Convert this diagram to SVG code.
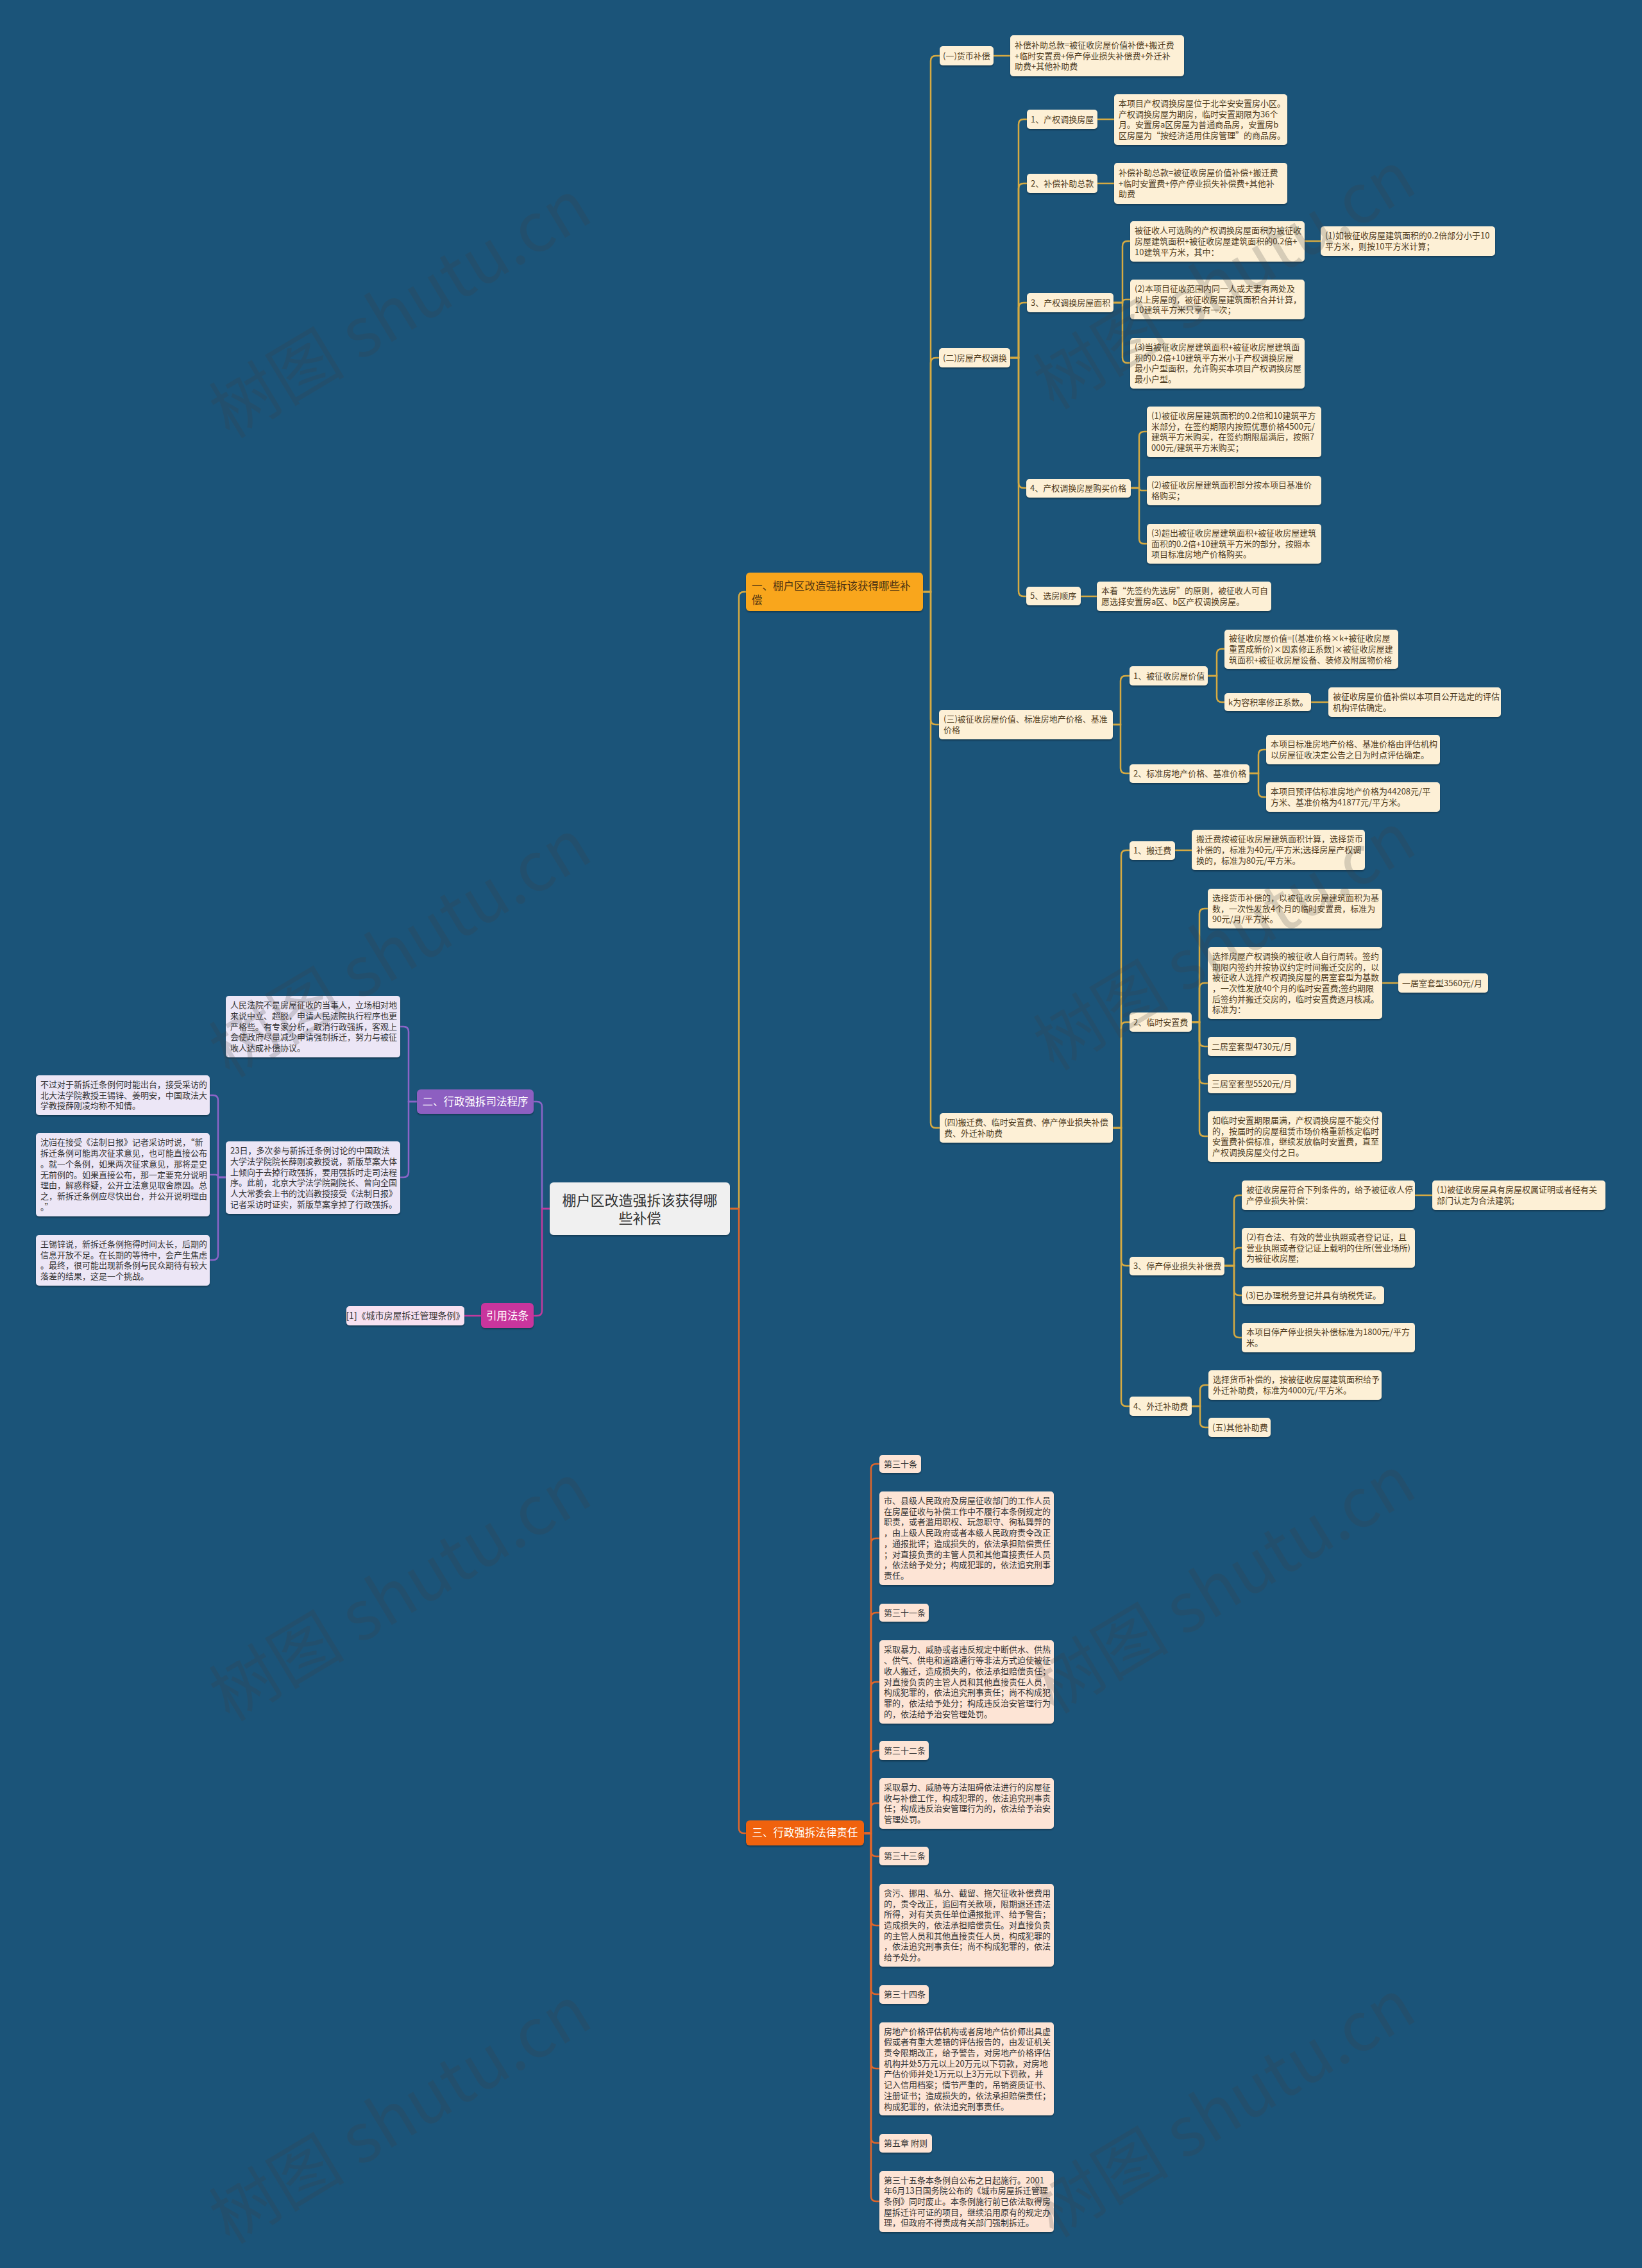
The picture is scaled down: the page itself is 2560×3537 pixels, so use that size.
<svg xmlns="http://www.w3.org/2000/svg" width="2560" height="3537" viewBox="0 0 2560 3537">
<defs>
<filter id="sh" x="-5%" y="-10%" width="110%" height="130%"><feDropShadow dx="0" dy="2" stdDeviation="1" flood-color="#000" flood-opacity="0.3"/></filter>
<style>
text{font-family:"Noto Sans CJK SC","Noto Sans",sans-serif;}
.t{font-size:13px;fill:#4f3c1e;}
.td{font-size:13px;fill:#333;}
.tw{font-size:16.5px;fill:#fff;}
.nc{fill:#fdf0d6;filter:url(#sh);}
.nl{fill:#ece6f6;filter:url(#sh);}
.np{fill:#f7e1f1;filter:url(#sh);}
.no{fill:#fde4d5;filter:url(#sh);}
.g{fill:none;stroke:#d6aa42;stroke-width:2.5;}
.p{fill:none;stroke:#8c64c8;stroke-width:2.5;}
.m{fill:none;stroke:#c23a9e;stroke-width:2.5;}
.o{fill:none;stroke:#e0662b;stroke-width:2.5;}
.wm{font-size:106px;fill:#404040;opacity:0.2;}
</style>
</defs>
<rect width="2560" height="3537" fill="#1b5479"/>

<g id="connectors">
<path class="g" stroke-width="3" d="M1138 1885H1152V931Q1152 923 1160 923H1163"/>
<path class="o" stroke-width="3" d="M1138 1885H1152V2851Q1152 2859 1160 2859H1163"/>
<path class="p" stroke-width="3" d="M857 1885H845V1726Q845 1718 837 1718H832"/>
<path class="m" stroke-width="3" d="M857 1885H845V2044Q845 2052 837 2052H832"/>
<path class="g" d="M1439 923H1451V95Q1451 87 1459 87H1465"/>
<path class="g" d="M1439 923H1451V566Q1451 558 1459 558H1464"/>
<path class="g" d="M1439 923H1451V1122Q1451 1130 1459 1130H1464"/>
<path class="g" d="M1439 923H1451V1751Q1451 1759 1459 1759H1465"/>
<path class="g" d="M1549 87H1575"/>
<path class="g" d="M1575 558H1588V194Q1588 186 1596 186H1601"/>
<path class="g" d="M1575 558H1588V294Q1588 286 1596 286H1601"/>
<path class="g" d="M1575 558H1588V480Q1588 472 1596 472H1601"/>
<path class="g" d="M1575 558H1588V753Q1588 761 1596 761H1600"/>
<path class="g" d="M1575 558H1588V922Q1588 930 1596 930H1600"/>
<path class="g" d="M1711 186H1737"/>
<path class="g" d="M1711 286H1737"/>
<path class="g" d="M1736 472H1750V384Q1750 376 1758 376H1762"/>
<path class="g" d="M1736 472H1750Q1750 467 1755 467H1762"/>
<path class="g" d="M1736 472H1750V558Q1750 566 1758 566H1762"/>
<path class="g" d="M2034 376H2059"/>
<path class="g" d="M1763 761H1776V681Q1776 673 1784 673H1788"/>
<path class="g" d="M1763 761H1776Q1776 765 1780 765H1788"/>
<path class="g" d="M1763 761H1776V840Q1776 848 1784 848H1788"/>
<path class="g" d="M1685 930H1710"/>
<path class="g" d="M1735 1130H1747V1062Q1747 1054 1755 1054H1761"/>
<path class="g" d="M1735 1130H1747V1198Q1747 1206 1755 1206H1761"/>
<path class="g" d="M1883 1054H1897V1020Q1897 1012 1905 1012H1909"/>
<path class="g" d="M1883 1054H1897V1087Q1897 1095 1905 1095H1909"/>
<path class="g" d="M2044 1095H2071"/>
<path class="g" d="M1948 1206H1962V1177Q1962 1169 1970 1169H1974"/>
<path class="g" d="M1948 1206H1962V1235Q1962 1243 1970 1243H1974"/>
<path class="g" d="M1735 1759H1748V1334Q1748 1326 1756 1326H1761"/>
<path class="g" d="M1735 1759H1748V1602Q1748 1594 1756 1594H1761"/>
<path class="g" d="M1735 1759H1748V1966Q1748 1974 1756 1974H1761"/>
<path class="g" d="M1735 1759H1748V2185Q1748 2193 1756 2193H1761"/>
<path class="g" d="M1832 1326H1858"/>
<path class="g" d="M1858 1594H1870V1425Q1870 1417 1878 1417H1883"/>
<path class="g" d="M1858 1594H1870V1541Q1870 1533 1878 1533H1883"/>
<path class="g" d="M1858 1594H1870V1624Q1870 1632 1878 1632H1883"/>
<path class="g" d="M1858 1594H1870V1682Q1870 1690 1878 1690H1883"/>
<path class="g" d="M1858 1594H1870V1764Q1870 1772 1878 1772H1883"/>
<path class="g" d="M2155 1533H2180"/>
<path class="g" d="M1909 1974H1924V1872Q1924 1864 1932 1864H1936"/>
<path class="g" d="M1909 1974H1924V1954Q1924 1946 1932 1946H1936"/>
<path class="g" d="M1909 1974H1924V2012Q1924 2020 1932 2020H1936"/>
<path class="g" d="M1909 1974H1924V2078Q1924 2086 1932 2086H1936"/>
<path class="g" d="M2206 1864H2233"/>
<path class="g" d="M1858 2193H1871V2168Q1871 2160 1879 2160H1884"/>
<path class="g" d="M1858 2193H1871V2218Q1871 2226 1879 2226H1884"/>
<path class="p" d="M650 1718H637V1609Q637 1601 629 1601H624"/>
<path class="p" d="M650 1718H637V1828Q637 1836 629 1836H624"/>
<path class="p" d="M352 1836H340V1716Q340 1708 332 1708H327"/>
<path class="p" d="M352 1836H340Q340 1832 336 1832H327"/>
<path class="p" d="M352 1836H340V1957Q340 1965 332 1965H327"/>
<path class="m" d="M750 2052H724"/>
<path class="o" d="M1347 2859H1358V2291Q1358 2283 1366 2283H1371"/>
<path class="o" d="M1347 2859H1358V2407Q1358 2399 1366 2399H1371"/>
<path class="o" d="M1347 2859H1358V2523Q1358 2515 1366 2515H1371"/>
<path class="o" d="M1347 2859H1358V2631Q1358 2623 1366 2623H1371"/>
<path class="o" d="M1347 2859H1358V2738Q1358 2730 1366 2730H1371"/>
<path class="o" d="M1347 2859H1358V2820Q1358 2812 1366 2812H1371"/>
<path class="o" d="M1347 2859H1358V2887Q1358 2895 1366 2895H1371"/>
<path class="o" d="M1347 2859H1358V2995Q1358 3003 1366 3003H1371"/>
<path class="o" d="M1347 2859H1358V3102Q1358 3110 1366 3110H1371"/>
<path class="o" d="M1347 2859H1358V3218Q1358 3226 1366 3226H1371"/>
<path class="o" d="M1347 2859H1358V3334Q1358 3342 1366 3342H1371"/>
<path class="o" d="M1347 2859H1358V3425Q1358 3433 1366 3433H1371"/>
</g>

<g id="root"><rect x="857" y="1844" width="281" height="82" rx="6" fill="#f0f0f0" filter="url(#sh)"/>
<text x="997.5" y="1880" font-size="22" fill="#333" text-anchor="middle">棚户区改造强拆该获得哪<tspan x="997.5" dy="28">些补偿</tspan></text></g>

<g id="n1"><rect x="1163" y="893" width="276" height="60" rx="6" fill="#f9a61c" filter="url(#sh)"/>
<text x="1172" y="919.8" font-size="16.5" fill="#4d3312">一、棚户区改造强拆该获得哪些补<tspan x="1172" dy="22">偿</tspan></text></g>

<g id="n1-1"><rect class="nc" x="1465" y="72" width="84" height="30" rx="5"/><text class="t" x="1470" y="91.5">(一)货币补偿</text></g>
<g id="n1-1a"><rect class="nc" x="1575" y="55" width="271" height="64" rx="5"/><text class="t" x="1582" y="74.8">补偿补助总款=被征收房屋价值补偿+搬迁费<tspan x="1582" dy="16.7">+临时安置费+停产停业损失补偿费+外迁补</tspan><tspan x="1582" dy="16.7">助费+其他补助费</tspan></text></g>

<g id="n1-2"><rect class="nc" x="1464" y="543" width="111" height="30" rx="5"/><text class="t" x="1470" y="562.5">(二)房屋产权调换</text></g>
<g id="n1-2-1"><rect class="nc" x="1601" y="171" width="110" height="30" rx="5"/><text class="t" x="1607" y="190.5">1、产权调换房屋</text></g>
<g id="n1-2-1a"><rect class="nc" x="1737" y="147" width="270" height="79" rx="5"/><text class="t" x="1744" y="166">本项目产权调换房屋位于北辛安安置房小区。<tspan x="1744" dy="16.7">产权调换房屋为期房，临时安置期限为36个</tspan><tspan x="1744" dy="16.7">月。安置房a区房屋为普通商品房，安置房b</tspan><tspan x="1744" dy="16.7">区房屋为“按经济适用住房管理”的商品房。</tspan></text></g>
<g id="n1-2-2"><rect class="nc" x="1601" y="271" width="110" height="30" rx="5"/><text class="t" x="1607" y="290.5">2、补偿补助总款</text></g>
<g id="n1-2-2a"><rect class="nc" x="1737" y="254" width="270" height="64" rx="5"/><text class="t" x="1744" y="273.8">补偿补助总款=被征收房屋价值补偿+搬迁费<tspan x="1744" dy="16.7">+临时安置费+停产停业损失补偿费+其他补</tspan><tspan x="1744" dy="16.7">助费</tspan></text></g>
<g id="n1-2-3"><rect class="nc" x="1601" y="457" width="135" height="30" rx="5"/><text class="t" x="1607" y="476.5">3、产权调换房屋面积</text></g>
<g id="n1-2-3a"><rect class="nc" x="1762" y="345" width="272" height="63" rx="5"/><text class="t" x="1769" y="364.3">被征收人可选购的产权调换房屋面积为被征收<tspan x="1769" dy="16.7">房屋建筑面积+被征收房屋建筑面积的0.2倍+</tspan><tspan x="1769" dy="16.7">10建筑平方米，其中：</tspan></text></g>
<g id="n1-2-3a1"><rect class="nc" x="2059" y="353" width="272" height="46" rx="5"/><text class="t" x="2066" y="372.2">(1)如被征收房屋建筑面积的0.2倍部分小于10<tspan x="2066" dy="16.7">平方米，则按10平方米计算；</tspan></text></g>
<g id="n1-2-3b"><rect class="nc" x="1762" y="436" width="272" height="62" rx="5"/><text class="t" x="1769" y="454.8">(2)本项目征收范围内同一人或夫妻有两处及<tspan x="1769" dy="16.7">以上房屋的，被征收房屋建筑面积合并计算，</tspan><tspan x="1769" dy="16.7">10建筑平方米只享有一次；</tspan></text></g>
<g id="n1-2-3c"><rect class="nc" x="1762" y="527" width="272" height="79" rx="5"/><text class="t" x="1769" y="546">(3)当被征收房屋建筑面积+被征收房屋建筑面<tspan x="1769" dy="16.7">积的0.2倍+10建筑平方米小于产权调换房屋</tspan><tspan x="1769" dy="16.7">最小户型面积，允许购买本项目产权调换房屋</tspan><tspan x="1769" dy="16.7">最小户型。</tspan></text></g>
<g id="n1-2-4"><rect class="nc" x="1600" y="747" width="163" height="29" rx="5"/><text class="t" x="1606" y="766">4、产权调换房屋购买价格</text></g>
<g id="n1-2-4a"><rect class="nc" x="1788" y="634" width="272" height="79" rx="5"/><text class="t" x="1795" y="653">(1)被征收房屋建筑面积的0.2倍和10建筑平方<tspan x="1795" dy="16.7">米部分，在签约期限内按照优惠价格4500元/</tspan><tspan x="1795" dy="16.7">建筑平方米购买，在签约期限届满后，按照7</tspan><tspan x="1795" dy="16.7">000元/建筑平方米购买；</tspan></text></g>
<g id="n1-2-4b"><rect class="nc" x="1788" y="742" width="272" height="46" rx="5"/><text class="t" x="1795" y="761.2">(2)被征收房屋建筑面积部分按本项目基准价<tspan x="1795" dy="16.7">格购买；</tspan></text></g>
<g id="n1-2-4c"><rect class="nc" x="1788" y="817" width="272" height="62" rx="5"/><text class="t" x="1795" y="835.8">(3)超出被征收房屋建筑面积+被征收房屋建筑<tspan x="1795" dy="16.7">面积的0.2倍+10建筑平方米的部分，按照本</tspan><tspan x="1795" dy="16.7">项目标准房地产价格购买。</tspan></text></g>
<g id="n1-2-5"><rect class="nc" x="1600" y="915" width="85" height="29" rx="5"/><text class="t" x="1606" y="934">5、选房顺序</text></g>
<g id="n1-2-5a"><rect class="nc" x="1710" y="907" width="272" height="46" rx="5"/><text class="t" x="1717" y="926.2">本着“先签约先选房”的原则，被征收人可自<tspan x="1717" dy="16.7">愿选择安置房a区、b区产权调换房屋。</tspan></text></g>

<g id="n1-3"><rect class="nc" x="1464" y="1107" width="271" height="46" rx="5"/><text class="t" x="1471" y="1126.2">(三)被征收房屋价值、标准房地产价格、基准<tspan x="1471" dy="16.7">价格</tspan></text></g>
<g id="n1-3-1"><rect class="nc" x="1761" y="1039" width="122" height="30" rx="5"/><text class="t" x="1767" y="1058.5">1、被征收房屋价值</text></g>
<g id="n1-3-1a"><rect class="nc" x="1909" y="982" width="271" height="61" rx="5"/><text class="t" x="1916" y="1000.3">被征收房屋价值=[(基准价格×k+被征收房屋<tspan x="1916" dy="16.7">重置成新价)×因素修正系数]×被征收房屋建</tspan><tspan x="1916" dy="16.7">筑面积+被征收房屋设备、装修及附属物价格</tspan></text></g>
<g id="n1-3-1b"><rect class="nc" x="1909" y="1081" width="135" height="28" rx="5"/><text class="t" x="1915" y="1099.5">k为容积率修正系数。</text></g>
<g id="n1-3-1b1"><rect class="nc" x="2071" y="1072" width="269" height="46" rx="5"/><text class="t" x="2078" y="1091.2">被征收房屋价值补偿以本项目公开选定的评估<tspan x="2078" dy="16.7">机构评估确定。</tspan></text></g>
<g id="n1-3-2"><rect class="nc" x="1761" y="1192" width="187" height="29" rx="5"/><text class="t" x="1767" y="1211">2、标准房地产价格、基准价格</text></g>
<g id="n1-3-2a"><rect class="nc" x="1974" y="1146" width="271" height="46" rx="5"/><text class="t" x="1981" y="1165.2">本项目标准房地产价格、基准价格由评估机构<tspan x="1981" dy="16.7">以房屋征收决定公告之日为时点评估确定。</tspan></text></g>
<g id="n1-3-2b"><rect class="nc" x="1974" y="1220" width="271" height="46" rx="5"/><text class="t" x="1981" y="1239.2">本项目预评估标准房地产价格为44208元/平<tspan x="1981" dy="16.7">方米、基准价格为41877元/平方米。</tspan></text></g>

<g id="n1-4"><rect class="nc" x="1465" y="1736" width="270" height="46" rx="5"/><text class="t" x="1472" y="1755.2">(四)搬迁费、临时安置费、停产停业损失补偿<tspan x="1472" dy="16.7">费、外迁补助费</tspan></text></g>
<g id="n1-4-1"><rect class="nc" x="1761" y="1312" width="71" height="29" rx="5"/><text class="t" x="1767" y="1331">1、搬迁费</text></g>
<g id="n1-4-1a"><rect class="nc" x="1858" y="1294" width="270" height="63" rx="5"/><text class="t" x="1865" y="1313.3">搬迁费按被征收房屋建筑面积计算，选择货币<tspan x="1865" dy="16.7">补偿的，标准为40元/平方米;选择房屋产权调</tspan><tspan x="1865" dy="16.7">换的，标准为80元/平方米。</tspan></text></g>
<g id="n1-4-2"><rect class="nc" x="1761" y="1579" width="97" height="30" rx="5"/><text class="t" x="1767" y="1598.5">2、临时安置费</text></g>
<g id="n1-4-2a"><rect class="nc" x="1883" y="1386" width="272" height="62" rx="5"/><text class="t" x="1890" y="1404.8">选择货币补偿的，以被征收房屋建筑面积为基<tspan x="1890" dy="16.7">数，一次性发放4个月的临时安置费，标准为</tspan><tspan x="1890" dy="16.7">90元/月/平方米。</tspan></text></g>
<g id="n1-4-2b"><rect class="nc" x="1883" y="1477" width="272" height="112" rx="5"/><text class="t" x="1890" y="1495.8">选择房屋产权调换的被征收人自行周转。签约<tspan x="1890" dy="16.7">期限内签约并按协议约定时间搬迁交房的，以</tspan><tspan x="1890" dy="16.7">被征收人选择产权调换房屋的居室套型为基数</tspan><tspan x="1890" dy="16.7">，一次性发放40个月的临时安置费;签约期限</tspan><tspan x="1890" dy="16.7">后签约并搬迁交房的，临时安置费逐月核减。</tspan><tspan x="1890" dy="16.7">标准为：</tspan></text></g>
<g id="n1-4-2b1"><rect class="nc" x="2180" y="1518" width="140" height="30" rx="5"/><text class="t" x="2186" y="1537.5">一居室套型3560元/月</text></g>
<g id="n1-4-2c"><rect class="nc" x="1883" y="1617" width="138" height="30" rx="5"/><text class="t" x="1889" y="1636.5">二居室套型4730元/月</text></g>
<g id="n1-4-2d"><rect class="nc" x="1883" y="1675" width="138" height="30" rx="5"/><text class="t" x="1889" y="1694.5">三居室套型5520元/月</text></g>
<g id="n1-4-2e"><rect class="nc" x="1883" y="1733" width="272" height="79" rx="5"/><text class="t" x="1890" y="1752">如临时安置期限届满，产权调换房屋不能交付<tspan x="1890" dy="16.7">的，按届时的房屋租赁市场价格重新核定临时</tspan><tspan x="1890" dy="16.7">安置费补偿标准，继续发放临时安置费，直至</tspan><tspan x="1890" dy="16.7">产权调换房屋交付之日。</tspan></text></g>
<g id="n1-4-3"><rect class="nc" x="1761" y="1960" width="148" height="29" rx="5"/><text class="t" x="1767" y="1979">3、停产停业损失补偿费</text></g>
<g id="n1-4-3a"><rect class="nc" x="1936" y="1841" width="270" height="46" rx="5"/><text class="t" x="1943" y="1860.2">被征收房屋符合下列条件的，给予被征收人停<tspan x="1943" dy="16.7">产停业损失补偿：</tspan></text></g>
<g id="n1-4-3a1"><rect class="nc" x="2233" y="1841" width="270" height="46" rx="5"/><text class="t" x="2240" y="1860.2">(1)被征收房屋具有房屋权属证明或者经有关<tspan x="2240" dy="16.7">部门认定为合法建筑;</tspan></text></g>
<g id="n1-4-3b"><rect class="nc" x="1936" y="1915" width="270" height="62" rx="5"/><text class="t" x="1943" y="1933.8">(2)有合法、有效的营业执照或者登记证，且<tspan x="1943" dy="16.7">营业执照或者登记证上载明的住所(营业场所)</tspan><tspan x="1943" dy="16.7">为被征收房屋;</tspan></text></g>
<g id="n1-4-3c"><rect class="nc" x="1936" y="2006" width="222" height="28" rx="5"/><text class="t" x="1942" y="2024.5">(3)已办理税务登记并具有纳税凭证。</text></g>
<g id="n1-4-3d"><rect class="nc" x="1936" y="2063" width="270" height="46" rx="5"/><text class="t" x="1943" y="2082.2">本项目停产停业损失补偿标准为1800元/平方<tspan x="1943" dy="16.7">米。</tspan></text></g>
<g id="n1-4-4"><rect class="nc" x="1761" y="2178" width="97" height="30" rx="5"/><text class="t" x="1767" y="2197.5">4、外迁补助费</text></g>
<g id="n1-4-4a"><rect class="nc" x="1884" y="2137" width="270" height="46" rx="5"/><text class="t" x="1891" y="2156.2">选择货币补偿的，按被征收房屋建筑面积给予<tspan x="1891" dy="16.7">外迁补助费，标准为4000元/平方米。</tspan></text></g>
<g id="n1-4-4b"><rect class="nc" x="1884" y="2211" width="97" height="30" rx="5"/><text class="t" x="1890" y="2230.5">(五)其他补助费</text></g>

<g id="n2"><rect x="650" y="1699" width="182" height="38" rx="6" fill="#8d5fc1" filter="url(#sh)"/><text class="tw" x="741" y="1724" text-anchor="middle">二、行政强拆司法程序</text></g>
<g id="n2-1"><rect class="nl" x="352" y="1553" width="272" height="96" rx="5"/><text class="td" x="359" y="1572.1">人民法院不是房屋征收的当事人，立场相对地<tspan x="359" dy="16.7">来说中立、超脱，申请人民法院执行程序也更</tspan><tspan x="359" dy="16.7">严格些。有专家分析，取消行政强拆，客观上</tspan><tspan x="359" dy="16.7">会使政府尽量减少申请强制拆迁，努力与被征</tspan><tspan x="359" dy="16.7">收人达成补偿协议。</tspan></text></g>
<g id="n2-2"><rect class="nl" x="352" y="1780" width="272" height="113" rx="5"/><text class="td" x="359" y="1799.3">23日，多次参与新拆迁条例讨论的中国政法<tspan x="359" dy="16.7">大学法学院院长薛刚凌教授说，新版草案大体</tspan><tspan x="359" dy="16.7">上倾向于去掉行政强拆，要用强拆时走司法程</tspan><tspan x="359" dy="16.7">序。此前，北京大学法学院副院长、曾向全国</tspan><tspan x="359" dy="16.7">人大常委会上书的沈岿教授接受《法制日报》</tspan><tspan x="359" dy="16.7">记者采访时证实，新版草案拿掉了行政强拆。</tspan></text></g>
<g id="n2-2a"><rect class="nl" x="56" y="1677" width="271" height="62" rx="5"/><text class="td" x="63" y="1695.8">不过对于新拆迁条例何时能出台，接受采访的<tspan x="63" dy="16.7">北大法学院教授王锡锌、姜明安，中国政法大</tspan><tspan x="63" dy="16.7">学教授薛刚凌均称不知情。</tspan></text></g>
<g id="n2-2b"><rect class="nl" x="56" y="1767" width="271" height="130" rx="5"/><text class="td" x="63" y="1786.4">沈岿在接受《法制日报》记者采访时说，“新<tspan x="63" dy="16.7">拆迁条例可能再次征求意见，也可能直接公布</tspan><tspan x="63" dy="16.7">。就一个条例，如果两次征求意见，那将是史</tspan><tspan x="63" dy="16.7">无前例的。如果直接公布，那一定要充分说明</tspan><tspan x="63" dy="16.7">理由，解惑释疑，公开立法意见取舍原因。总</tspan><tspan x="63" dy="16.7">之，新拆迁条例应尽快出台，并公开说明理由</tspan><tspan x="63" dy="16.7">。”</tspan></text></g>
<g id="n2-2c"><rect class="nl" x="56" y="1926" width="271" height="79" rx="5"/><text class="td" x="63" y="1945">王锡锌说，新拆迁条例拖得时间太长，后期的<tspan x="63" dy="16.7">信息开放不足。在长期的等待中，会产生焦虑</tspan><tspan x="63" dy="16.7">。最终，很可能出现新条例与民众期待有较大</tspan><tspan x="63" dy="16.7">落差的结果，这是一个挑战。</tspan></text></g>

<g id="n4"><rect x="750" y="2032" width="82" height="39" rx="6" fill="#c8349d" filter="url(#sh)"/><text class="tw" x="791" y="2058" text-anchor="middle">引用法条</text></g>
<g id="n4-1"><rect class="np" x="540" y="2037" width="184" height="30" rx="5"/><text x="632" y="2057" font-size="14" fill="#333" text-anchor="middle">[1]《城市房屋拆迁管理条例》</text></g>

<g id="n3"><rect x="1163" y="2839" width="184" height="39" rx="6" fill="#f0620f" filter="url(#sh)"/><text class="tw" x="1255" y="2864" text-anchor="middle">三、行政强拆法律责任</text></g>
<g id="n3-1"><rect class="no" x="1371" y="2269" width="65" height="28" rx="5"/><text class="td" x="1378" y="2287.5">第三十条</text></g>
<g id="n3-2"><rect class="no" x="1371" y="2326" width="272" height="146" rx="5"/><text class="td" x="1378" y="2345">市、县级人民政府及房屋征收部门的工作人员<tspan x="1378" dy="16.7">在房屋征收与补偿工作中不履行本条例规定的</tspan><tspan x="1378" dy="16.7">职责，或者滥用职权、玩忽职守、徇私舞弊的</tspan><tspan x="1378" dy="16.7">，由上级人民政府或者本级人民政府责令改正</tspan><tspan x="1378" dy="16.7">，通报批评；造成损失的，依法承担赔偿责任</tspan><tspan x="1378" dy="16.7">；对直接负责的主管人员和其他直接责任人员</tspan><tspan x="1378" dy="16.7">，依法给予处分；构成犯罪的，依法追究刑事</tspan><tspan x="1378" dy="16.7">责任。</tspan></text></g>
<g id="n3-3"><rect class="no" x="1371" y="2501" width="77" height="28" rx="5"/><text class="td" x="1378" y="2519.5">第三十一条</text></g>
<g id="n3-4"><rect class="no" x="1371" y="2558" width="272" height="130" rx="5"/><text class="td" x="1378" y="2577.4">采取暴力、威胁或者违反规定中断供水、供热<tspan x="1378" dy="16.7">、供气、供电和道路通行等非法方式迫使被征</tspan><tspan x="1378" dy="16.7">收人搬迁，造成损失的，依法承担赔偿责任；</tspan><tspan x="1378" dy="16.7">对直接负责的主管人员和其他直接责任人员，</tspan><tspan x="1378" dy="16.7">构成犯罪的，依法追究刑事责任；尚不构成犯</tspan><tspan x="1378" dy="16.7">罪的，依法给予处分；构成违反治安管理行为</tspan><tspan x="1378" dy="16.7">的，依法给予治安管理处罚。</tspan></text></g>
<g id="n3-5"><rect class="no" x="1371" y="2715" width="77" height="30" rx="5"/><text class="td" x="1378" y="2734.5">第三十二条</text></g>
<g id="n3-6"><rect class="no" x="1371" y="2773" width="272" height="79" rx="5"/><text class="td" x="1378" y="2792">采取暴力、威胁等方法阻碍依法进行的房屋征<tspan x="1378" dy="16.7">收与补偿工作，构成犯罪的，依法追究刑事责</tspan><tspan x="1378" dy="16.7">任；构成违反治安管理行为的，依法给予治安</tspan><tspan x="1378" dy="16.7">管理处罚。</tspan></text></g>
<g id="n3-7"><rect class="no" x="1371" y="2880" width="77" height="29" rx="5"/><text class="td" x="1378" y="2899">第三十三条</text></g>
<g id="n3-8"><rect class="no" x="1371" y="2938" width="272" height="129" rx="5"/><text class="td" x="1378" y="2956.9">贪污、挪用、私分、截留、拖欠征收补偿费用<tspan x="1378" dy="16.7">的，责令改正，追回有关款项，限期退还违法</tspan><tspan x="1378" dy="16.7">所得，对有关责任单位通报批评、给予警告；</tspan><tspan x="1378" dy="16.7">造成损失的，依法承担赔偿责任。对直接负责</tspan><tspan x="1378" dy="16.7">的主管人员和其他直接责任人员，构成犯罪的</tspan><tspan x="1378" dy="16.7">，依法追究刑事责任；尚不构成犯罪的，依法</tspan><tspan x="1378" dy="16.7">给予处分。</tspan></text></g>
<g id="n3-9"><rect class="no" x="1371" y="3096" width="77" height="29" rx="5"/><text class="td" x="1378" y="3115">第三十四条</text></g>
<g id="n3-10"><rect class="no" x="1371" y="3154" width="272" height="145" rx="5"/><text class="td" x="1378" y="3172.6">房地产价格评估机构或者房地产估价师出具虚<tspan x="1378" dy="16.7">假或者有重大差错的评估报告的，由发证机关</tspan><tspan x="1378" dy="16.7">责令限期改正，给予警告，对房地产价格评估</tspan><tspan x="1378" dy="16.7">机构并处5万元以上20万元以下罚款，对房地</tspan><tspan x="1378" dy="16.7">产估价师并处1万元以上3万元以下罚款，并</tspan><tspan x="1378" dy="16.7">记入信用档案；情节严重的，吊销资质证书、</tspan><tspan x="1378" dy="16.7">注册证书；造成损失的，依法承担赔偿责任；</tspan><tspan x="1378" dy="16.7">构成犯罪的，依法追究刑事责任。</tspan></text></g>
<g id="n3-11"><rect class="no" x="1371" y="3328" width="82" height="29" rx="5"/><text class="td" x="1378" y="3347">第五章 附则</text></g>
<g id="n3-12"><rect class="no" x="1371" y="3386" width="272" height="95" rx="5"/><text class="td" x="1378" y="3404.6">第三十五条本条例自公布之日起施行。2001<tspan x="1378" dy="16.7">年6月13日国务院公布的《城市房屋拆迁管理</tspan><tspan x="1378" dy="16.7">条例》同时废止。本条例施行前已依法取得房</tspan><tspan x="1378" dy="16.7">屋拆迁许可证的项目，继续沿用原有的规定办</tspan><tspan x="1378" dy="16.7">理，但政府不得责成有关部门强制拆迁。</tspan></text></g>

<g id="watermark">
<text class="wm" text-anchor="middle" transform="translate(643 514) rotate(-31)">树图 shutu.cn</text>
<text class="wm" text-anchor="middle" transform="translate(1928 469) rotate(-31)">树图 shutu.cn</text>
<text class="wm" text-anchor="middle" transform="translate(643 1511) rotate(-31)">树图 shutu.cn</text>
<text class="wm" text-anchor="middle" transform="translate(1928 1500) rotate(-31)">树图 shutu.cn</text>
<text class="wm" text-anchor="middle" transform="translate(643 2515) rotate(-31)">树图 shutu.cn</text>
<text class="wm" text-anchor="middle" transform="translate(1928 2503) rotate(-31)">树图 shutu.cn</text>
<text class="wm" text-anchor="middle" transform="translate(643 3330) rotate(-31)">树图 shutu.cn</text>
<text class="wm" text-anchor="middle" transform="translate(1928 3320) rotate(-31)">树图 shutu.cn</text>
</g>
</svg>
